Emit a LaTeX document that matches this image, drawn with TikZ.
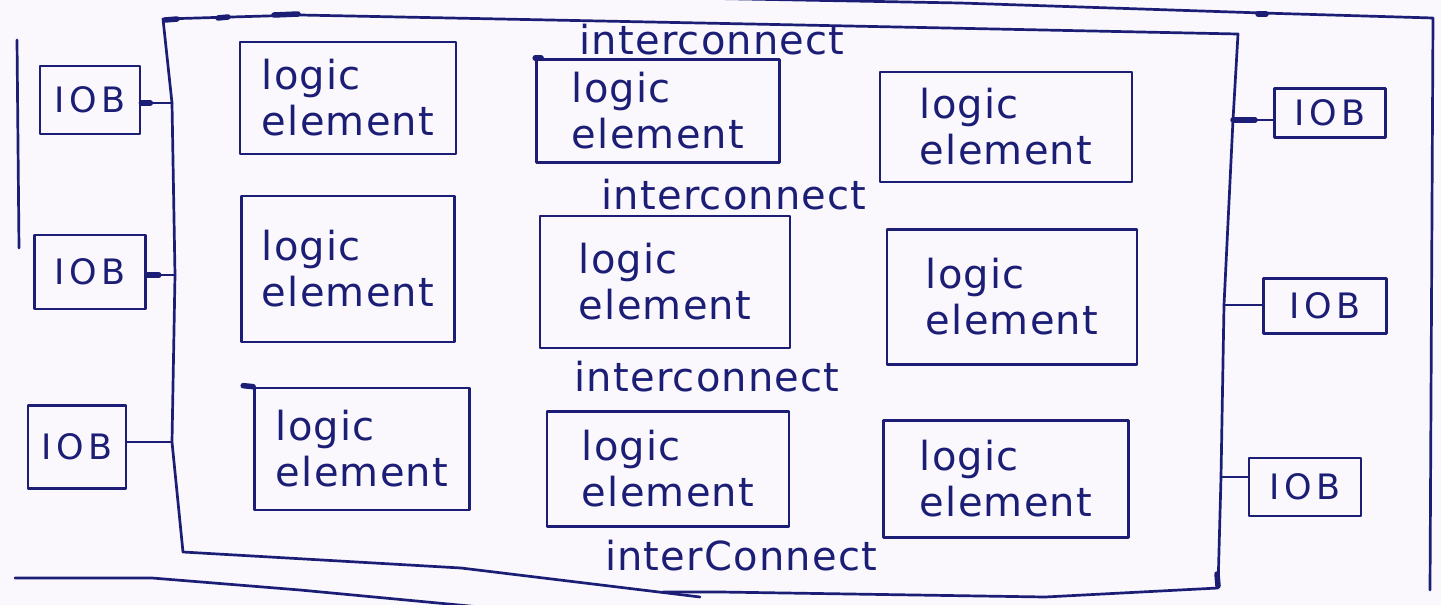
\documentclass[tikz,border=0pt]{standalone}
\usepackage{fontspec}
\newfontfamily\hand{DejaVu Sans}[LetterSpace=3]
\newfontfamily\handwide{DejaVu Sans}[LetterSpace=12]
\definecolor{ink}{RGB}{28,30,118}
\definecolor{paper}{RGB}{250,248,253}

\begin{document}
\begin{tikzpicture}[x=1pt,y=-1pt,
  pen/.style={draw=ink, line width=2.7pt, line cap=round, line join=round},
  blot/.style={draw=ink, line width=5.5pt, line cap=round},
  iob/.style={pen, rectangle, inner sep=0pt, text=ink,
    font=\handwide\fontsize{35}{40}\selectfont},
  logicbox/.style={pen, rectangle, inner sep=0pt, align=left, text=ink,
    font=\hand\fontsize{40}{46}\selectfont},
  netname/.style={inner sep=0pt, text=ink, font=\hand\fontsize{40}{46}\selectfont}]

% paper
\fill[paper] (0,0) rectangle (1441,605);
\useasboundingbox (0,0) rectangle (1441,605);

% board outline (partly off the sheet)
\draw[pen] (17,40) -- (19,248);
\draw[pen] (690,-2) -- (960,3) -- (1262,13) -- (1433,18) -- (1430,590);
\draw[pen] (15,578) -- (152,578) -- (300,590) -- (480,607);

% chip outline with tap points for the I/O blocks
\coordinate (ctl) at (163,19);
\coordinate (cL1) at (172,103);
\coordinate (cL2) at (175,275);
\coordinate (cL3) at (172,442);
\coordinate (cbl) at (183,552);
\coordinate (ctr) at (1238,34);
\coordinate (cR1) at (1233,120);
\coordinate (cR2) at (1224,305);
\coordinate (cR3) at (1221,477);
\coordinate (cbr) at (1218,588);

\draw[pen] (cbl) -- (cL3) -- (cL2) -- (cL1) -- (ctl) -- (300,15) -- (800,25)
  -- (ctr) -- (cR1) -- (cR2) -- (cR3) -- (cbr) -- (1045,597) -- (720,592) -- (663,592);
\draw[pen] (cbl) -- (461,568) -- (700,597);

% ink blots along the outline
\draw[blot] (165,20) -- (177,19);
\draw[blot] (218,18) -- (228,17);
\draw[blot] (274,15) -- (298,14);
\draw[blot] (1217,574) -- (1218,586);
\draw[blot] (1258,14) -- (1266,14);

% logic elements
\node[logicbox, minimum width=216pt, minimum height=112pt] (le11) at (348,98)  {logic\\element};
\node[logicbox, minimum width=243pt, minimum height=103pt] (le12) at (658,111) {logic\\element};
\node[logicbox, minimum width=252pt, minimum height=110pt] (le13) at (1006,127) {logic\\element};
\node[logicbox, minimum width=213pt, minimum height=146pt] (le21) at (348,269) {logic\\element};
\node[logicbox, minimum width=250pt, minimum height=132pt] (le22) at (665,282) {logic\\element};
\node[logicbox, minimum width=250pt, minimum height=135pt] (le23) at (1012,297) {logic\\element};
\node[logicbox, minimum width=215pt, minimum height=122pt] (le31) at (362,449) {logic\\element};
\node[logicbox, minimum width=242pt, minimum height=115pt] (le32) at (668,469) {logic\\element};
\node[logicbox, minimum width=245pt, minimum height=117pt] (le33) at (1006,479) {logic\\element};

\draw[blot] (le31.north west) -- ++(-10,-1);
\draw[blot] (le12.north west) -- ++(6,0);

% interconnect channels
\node[netname] (ic1) at (712,40)  {interconnect};
\node[netname] (ic2) at (734,195) {interconnect};
\node[netname] (ic3) at (707,377) {interconnect};
\node[netname] (ic4) at (741,556) {interConnect};

% I/O blocks
\node[iob, minimum width=100pt, minimum height=68pt] (iob1) at (90,100)   {IOB};
\node[iob, minimum width=111pt, minimum height=74pt] (iob2) at (90,272)   {IOB};
\node[iob, minimum width=98pt,  minimum height=83pt] (iob3) at (77,447)   {IOB};
\node[iob, minimum width=111pt, minimum height=49pt] (iob4) at (1330,113) {IOB};
\node[iob, minimum width=123pt, minimum height=55pt] (iob5) at (1325,306) {IOB};
\node[iob, minimum width=112pt, minimum height=58pt] (iob6) at (1305,487) {IOB};

% I/O block connections
\draw[pen] (cL1 -| iob1.east) -- (cL1);
\draw[pen] (cL2 -| iob2.east) -- (cL2);
\draw[pen] (cL3 -| iob3.east) -- (cL3);
\draw[pen] (cR1) -- (cR1 -| iob4.west);
\draw[pen] (cR2) -- (cR2 -| iob5.west);
\draw[pen] (cR3) -- (cR3 -| iob6.west);

\draw[blot] (cL1 -| iob1.east) -- ++(9,0);
\draw[blot] (cL2 -| iob2.east) -- ++(12,0);
\draw[blot] (cR1) -- ++(22,0);
\end{tikzpicture}
\end{document}
